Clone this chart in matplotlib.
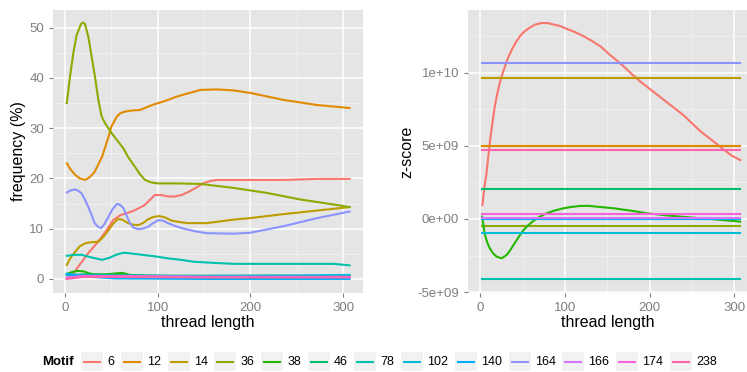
import matplotlib
matplotlib.use("Agg")
import matplotlib.pyplot as plt
from matplotlib.patches import Rectangle
from matplotlib.lines import Line2D

plt.rcParams['font.family'] = ['Liberation Sans', 'DejaVu Sans']

# motif levels and ggplot hue colours
motifs = ['6', '12', '14', '36', '38', '46', '78', '102', '140', '164', '166', '174', '238']
colors = ['#F8766D', '#E18A00', '#BE9C00', '#8CAB00', '#24B700', '#00BE70', '#00C1AB',
          '#00BBDA', '#00ACFC', '#8B93FF', '#D575FE', '#F962DD', '#FF65AC']

# ---- left panel: frequency (%) vs thread length ----
freq_x_6 = [2, 9, 17, 25, 32, 40, 46, 52, 60, 72, 79, 86, 92, 97, 104, 111, 118, 126, 133, 140, 149, 157, 164, 200, 236, 272, 307]
freq_y_6 = [0, 1.1, 3.1, 5.1, 6.6, 8.4, 10.0, 11.7, 12.7, 13.4, 14.0, 14.7, 15.8, 16.7, 16.7, 16.4, 16.4, 16.7, 17.3, 18.0, 19.0, 19.5, 19.7, 19.7, 19.7, 19.9, 19.9]
freq_x_12 = [2, 6, 11, 16, 22, 27, 32, 40, 43, 47, 50, 56, 60, 65, 72, 81, 94, 108, 121, 146, 164, 182, 200, 236, 272, 307]
freq_y_12 = [23, 21.8, 20.7, 20.0, 19.7, 20.3, 21.3, 24.3, 26, 28.3, 30.3, 32.3, 33, 33.3, 33.5, 33.6, 34.6, 35.4, 36.3, 37.6, 37.7, 37.5, 37, 35.6, 34.6, 34]
freq_x_14 = [2, 6, 11, 16, 22, 28, 36, 41, 47, 52, 57, 62, 68, 73, 79, 84, 90, 95, 101, 107, 115, 124, 133, 153, 182, 200, 236, 272, 307]
freq_y_14 = [2.8, 4.2, 5.4, 6.5, 7.1, 7.3, 7.4, 8.3, 9.7, 11.0, 11.9, 11.8, 11.1, 10.8, 10.7, 11.1, 11.9, 12.3, 12.5, 12.3, 11.6, 11.3, 11.1, 11.1, 11.8, 12.1, 12.9, 13.6, 14.3]
freq_x_36 = [2, 5.4, 9, 12.6, 17.3, 19.5, 21.6, 25.2, 28.8, 32.4, 36, 39.6, 43.2, 50.3, 57.5, 62.9, 68, 75.5, 81, 86.3, 93, 100.6, 120, 146, 182, 218, 254, 290, 307]
freq_y_36 = [35, 40.2, 44.9, 48.5, 50.7, 51, 50.7, 48.2, 44.2, 40.2, 35.6, 32.3, 31, 29, 27.3, 26, 24.3, 22.3, 20.8, 19.7, 19.2, 19, 19, 18.9, 18.1, 17.1, 15.8, 14.8, 14.3]
freq_x_38 = [2, 8, 14, 20, 26, 32, 45, 55, 62, 70, 90, 150, 235, 307]
freq_y_38 = [1.0, 1.4, 1.6, 1.5, 1.1, 0.9, 0.9, 1.1, 1.2, 0.8, 0.6, 0.6, 0.6, 0.5]
freq_x_46 = [2, 20, 60, 120, 200, 307]
freq_y_46 = [0.8, 0.9, 0.8, 0.6, 0.6, 0.6]
freq_x_78 = [2, 10, 18, 28, 40, 48, 55, 63, 70, 83, 97, 111, 125, 140, 160, 182, 236, 290, 307]
freq_y_78 = [4.6, 4.8, 4.8, 4.3, 3.8, 4.2, 4.8, 5.2, 5.1, 4.8, 4.5, 4.1, 3.8, 3.4, 3.2, 3.0, 3.0, 3.0, 2.7]
freq_x_102 = [2, 20, 60, 150, 250, 307]
freq_y_102 = [0.9, 0.7, 0.6, 0.6, 0.7, 0.8]
freq_x_140 = [2, 20, 55, 150, 307]
freq_y_140 = [1.0, 0.5, 0.1, 0.0, 0.0]
freq_x_164 = [2, 6, 11, 14, 18, 21, 25, 29, 32, 35.5, 39, 42.5, 47, 51, 56, 59, 63, 66.5, 70, 74, 79, 84, 90, 95, 101, 106, 111, 118, 126, 140, 153, 182, 200, 236, 272, 307]
freq_y_164 = [17.2, 17.6, 17.8, 17.6, 17, 16, 14.4, 12.6, 11.1, 10.4, 10.1, 10.9, 12.4, 13.8, 14.9, 14.8, 14.1, 12.6, 11.1, 10.2, 9.9, 10.0, 10.4, 11.1, 11.7, 11.6, 11.1, 10.6, 10.1, 9.5, 9.1, 9.0, 9.2, 10.5, 12.1, 13.4]
freq_x_166 = [2, 20, 60, 150, 307]
freq_y_166 = [0.3, 0.5, 0.6, 0.4, 0.4]
freq_x_174 = [2, 20, 60, 150, 307]
freq_y_174 = [0.2, 0.6, 0.5, 0.4, 0.4]
freq_x_238 = [2, 20, 60, 150, 307]
freq_y_238 = [0.0, 0.4, 0.4, 0.3, 0.3]

freq_x = [freq_x_6, freq_x_12, freq_x_14, freq_x_36, freq_x_38, freq_x_46, freq_x_78,
          freq_x_102, freq_x_140, freq_x_164, freq_x_166, freq_x_174, freq_x_238]
freq_y = [freq_y_6, freq_y_12, freq_y_14, freq_y_36, freq_y_38, freq_y_46, freq_y_78,
          freq_y_102, freq_y_140, freq_y_164, freq_y_166, freq_y_174, freq_y_238]

# ---- right panel: z-score (units of 1e9) ----
z_x_6 = [2.4, 4.5, 7.1, 9.5, 11.9, 14.5, 17, 20, 22.9, 25.8, 28.9, 32.5, 36.8, 41.5, 46.7, 52.5, 58.6, 65, 72.4, 79,
         86.3, 94, 102, 111, 122, 131, 142, 151.5, 160, 170, 180, 190, 200, 220, 240, 260, 280, 296, 307]
z_y_6 = [0.96, 2.1, 3.1, 4.4, 5.6, 6.7, 7.7, 8.6, 9.3, 9.9, 10.4, 11.0, 11.55, 12.05, 12.5, 12.85, 13.1, 13.3, 13.4, 13.4,
         13.3, 13.2, 13.0, 12.8, 12.5, 12.2, 11.8, 11.3, 10.9, 10.4, 9.85, 9.35, 8.9, 8.0, 7.1, 6.0, 5.1, 4.37, 4.03]
z_x_38 = [2, 5, 8, 11, 15, 19, 25, 31, 35, 39, 45, 51, 57, 63, 70, 78, 88, 98, 108, 118, 128, 138, 158, 180, 197, 220, 237, 260, 276, 307]
z_y_38 = [0.16, -1.0, -1.6, -2.0, -2.35, -2.57, -2.69, -2.46, -2.15, -1.78, -1.25, -0.75, -0.4, -0.11, 0.15, 0.39, 0.58,
          0.73, 0.83, 0.89, 0.9, 0.84, 0.73, 0.55, 0.39, 0.25, 0.16, 0.05, -0.02, -0.18]
z_const = {'12': 5.01, '14': 9.66, '36': -0.48, '46': 2.07, '78': -4.12, '102': -0.98,
           '140': 0.0, '164': 10.64, '166': 0.09, '174': 0.36, '238': 4.72}
z_span = [2, 307]

W, H = 747, 372
fig = plt.figure(figsize=(W / 100, H / 100), dpi=100)


def px_box(x0, x1, y0, y1):
    return [x0 / W, 1 - y1 / H, (x1 - x0) / W, (y1 - y0) / H]


def style(ax):
    ax.set_facecolor('#E5E5E5')
    for s in ax.spines.values():
        s.set_visible(False)
    ax.grid(which='major', color='white', lw=1.1)
    ax.grid(which='minor', color='#F2F2F2', lw=0.6)
    ax.set_axisbelow(True)
    ax.tick_params(which='major', colors='#7F7F7F', labelsize=9.5, length=3, width=0.8)
    ax.tick_params(which='minor', length=0)
    ax.set_xlabel('thread length', fontsize=11.5, labelpad=1)


ax1 = fig.add_axes(px_box(53, 363, 10, 293))
style(ax1)
for xs, ys, c in zip(freq_x, freq_y, colors):
    ax1.plot(xs, ys, color=c, lw=1.5, solid_joinstyle='round')
ax1.set_xlim(-12.9, 321.5)
ax1.set_ylim(-2.8, 53.5)
ax1.set_xticks([0, 100, 200, 300])
ax1.set_xticks([50, 150, 250], minor=True)
ax1.set_yticks([0, 10, 20, 30, 40, 50])
ax1.set_yticks([5, 15, 25, 35, 45], minor=True)
ax1.set_ylabel('frequency (%)', fontsize=11.5, labelpad=2)

ax2 = fig.add_axes(px_box(468, 748, 10, 293))
style(ax2)
for m, c in zip(motifs, colors):
    if m == '6':
        ax2.plot(z_x_6, z_y_6, color=c, lw=1.5, solid_joinstyle='round')
    elif m == '38':
        ax2.plot(z_x_38, z_y_38, color=c, lw=1.5, solid_joinstyle='round')
    else:
        ax2.plot(z_span, [z_const[m]] * 2, color=c, lw=1.5)
ax2.set_xlim(-14.7, 316.3)
ax2.set_ylim(-5.06, 14.29)
ax2.set_xticks([0, 100, 200, 300])
ax2.set_xticks([50, 150, 250], minor=True)
ax2.set_yticks([-5, 0, 5, 10])
ax2.set_yticklabels(['-5e+09', '0e+00', '5e+09', '1e+10'])
ax2.set_yticks([-2.5, 2.5, 7.5, 12.5], minor=True)
ax2.set_ylabel('z-score', fontsize=11.5, labelpad=2)

# legend drawn by hand, ggplot style (keys with grey boxes)
renderer = fig.canvas.get_renderer()
ly = 362
fig.text(42 / W, 1 - ly / H, 'Motif', fontsize=9.5, fontweight='bold', va='center', ha='left')
x = 81
for m, c in zip(motifs, colors):
    fig.add_artist(Rectangle((x / W, 1 - 371 / H), 22 / W, 19 / H, transform=fig.transFigure,
                             facecolor='#F2F2F2', edgecolor='none'))
    fig.add_artist(Line2D([(x + 3) / W, (x + 19) / W], [1 - ly / H] * 2, transform=fig.transFigure,
                          color=c, lw=1.5))
    t = fig.text((x + 26) / W, 1 - ly / H, m, fontsize=9, va='center', ha='left')
    bb = t.get_window_extent(renderer)
    x = bb.x1 + 6.8

fig.savefig('out.png', dpi=100)
